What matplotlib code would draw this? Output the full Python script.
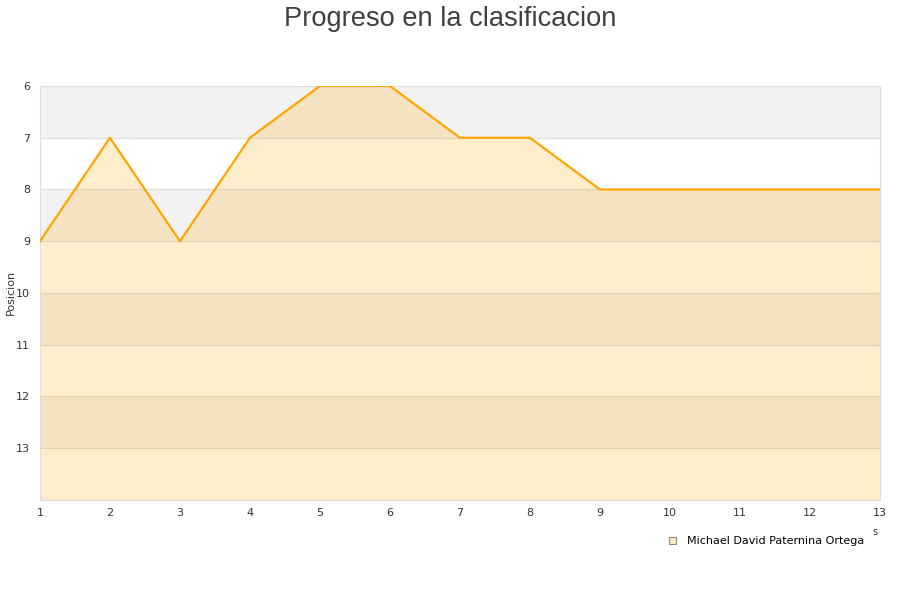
import numpy as np
import matplotlib.pyplot as plt

# datos de la clasificacion
jornadas = [1, 2, 3, 4, 5, 6, 7, 8, 9, 10, 11, 12, 13]
posicion = [9, 7, 9, 7, 6, 6, 7, 7, 8, 8, 8, 8, 8]
jugador = "Michael David Paternina Ortega"
y_ticks = [6, 7, 8, 9, 10, 11, 12, 13]

fig = plt.figure(figsize=(9, 6), dpi=100)
ax = fig.add_axes([0.0444, 0.1667, 0.9333, 0.69])

ax.set_xlim(1, 13)
ax.set_ylim(14, 6)

# bandas alternas
for y0 in range(6, 14, 2):
    ax.axhspan(y0, y0 + 1, color="#f2f2f2", lw=0, zorder=0)
for y0 in range(6, 15):
    ax.axhline(y0, color="#dddddd", lw=0.8, zorder=1)

ax.fill_between(jornadas, posicion, 14, color="#ffa500", alpha=0.2, lw=0, zorder=2)
ax.plot(jornadas, posicion, color="#ffa500", lw=1.6, zorder=3)

ax.set_xticks(jornadas)
ax.set_yticks(y_ticks)
ax.tick_params(axis="x", length=0, labelsize=8, colors="#333333", pad=6)
ax.tick_params(axis="y", length=0, labelsize=8, colors="#333333", pad=7)
for s in ax.spines.values():
    s.set_color("#dddddd")

fig.text(0.012, 0.512, "Posicion", fontsize=8, color="#333333", rotation=90,
         ha="center", va="center")
fig.text(0.972, 0.108, "s", fontsize=7, color="#333333", ha="center")

fig.suptitle("Progreso en la clasificacion", fontsize=19.6, color="#404040",
             family="Liberation Sans", y=0.99)

# leyenda
fig.patches.append(plt.Rectangle((0.7433, 0.0933), 0.0078, 0.0117, transform=fig.transFigure,
                                 facecolor="#fde9c6", edgecolor="#888888", lw=0.8))
fig.text(0.763, 0.099, jugador, fontsize=8, color="#000000", va="center")

fig.savefig("out.png")
